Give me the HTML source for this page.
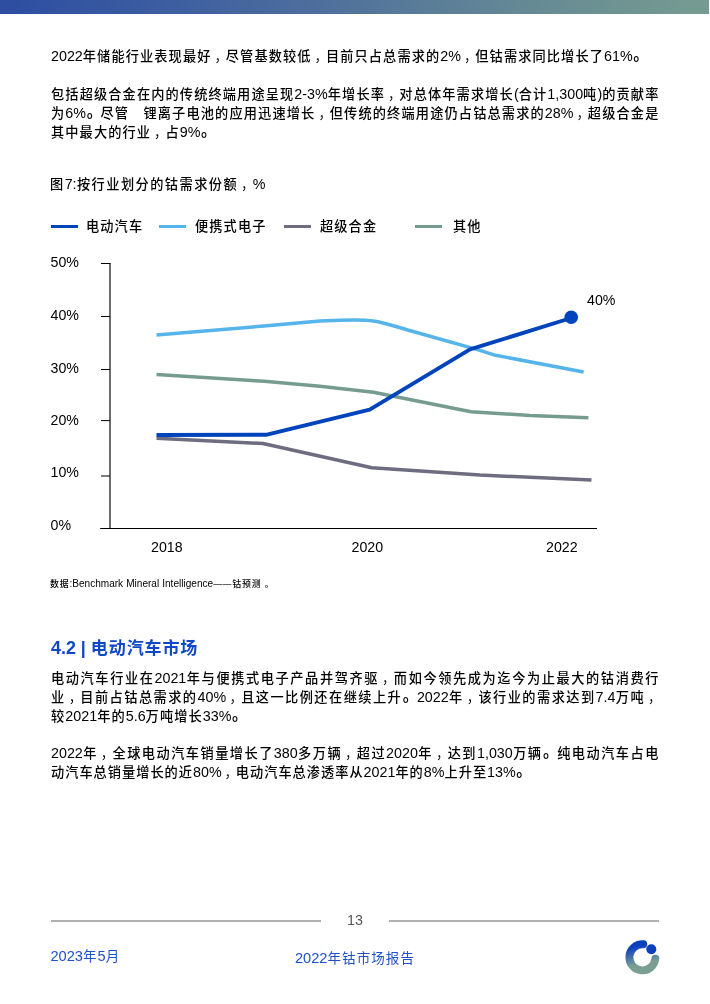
<!DOCTYPE html>
<html lang="zh-CN">
<head>
<meta charset="utf-8">
<title>2022年钴市场报告</title>
<style>
html,body{margin:0;padding:0;background:#fff;}
body{width:710px;height:1004px;position:relative;overflow:hidden;
  font-family:"Liberation Sans","Noto Sans CJK SC",sans-serif;color:#000;font-weight:500;}
.e{font-weight:400;letter-spacing:0;}
.c{position:relative;left:3px;font-weight:400;}
.ln .p{position:relative;left:.6px;top:-.9px;font-size:15.4px;letter-spacing:-1.09px;font-weight:700;}
.topbar{position:absolute;left:0;top:0;width:709px;height:14.4px;
  background:linear-gradient(90deg,#2d4ea1 0%,#3a5ba0 20%,#4e6f9c 45%,#668a94 75%,#769c90 100%);}
.ln{position:absolute;left:51px;white-space:nowrap;font-size:13.2px;letter-spacing:1.11px;line-height:20px;height:20px;}
.ln .e{font-size:14.31px;}
.j{width:608.5px;text-align:justify;text-align-last:justify;white-space:normal;}
.cap{position:absolute;left:50px;width:215.5px;text-align:justify;text-align-last:justify;font-size:13.2px;letter-spacing:1.11px;line-height:20px;}
.cap .e{font-size:14.31px;}
.lg{position:absolute;white-space:nowrap;font-size:13.2px;letter-spacing:1.11px;line-height:18px;top:218px;}
.lgl{position:absolute;height:3px;top:224.5px;}
.src{position:absolute;left:50px;top:577px;width:224.3px;text-align:justify;text-align-last:justify;font-size:8.9px;letter-spacing:.6px;line-height:13px;}
.src .e{font-size:10.07px;}
h2{position:absolute;left:51px;top:636px;margin:0;font-size:17px;letter-spacing:.9px;line-height:24px;font-weight:bold;color:#0f47c6;white-space:nowrap;}
h2 .e{font-size:17.9px;font-weight:bold;}
.ft{position:absolute;white-space:nowrap;font-size:13.5px;letter-spacing:1.1px;line-height:20px;color:#1f50c8;font-weight:400;}
.ft .e{font-size:14.6px;}
.pg{position:absolute;left:347px;top:909.8px;font-size:14.31px;line-height:20px;color:#555;font-weight:400;}
.hr{position:absolute;top:920.2px;height:1.7px;background:#b0b0b0;}
svg{position:absolute;left:0;top:0;}
svg text{font-family:"Liberation Sans","Noto Sans CJK SC",sans-serif;font-size:14.2px;fill:#000;font-weight:400;}
</style>
</head>
<body>
<div class="topbar"></div>

<div class="ln" style="top:46px"><span class="e">2022</span>年储能行业表现最好<span class="c">，</span>尽管基数较低<span class="c">，</span>目前只占总需求的<span class="e">2%</span><span class="c">，</span>但钴需求同比增长了<span class="e">61%</span><span class="p">。</span></div>
<div class="ln j" style="top:84px">包括超级合金在内的传统终端用途呈现<span class="e">2-3%</span>年增长率<span class="c">，</span>对总体年需求增长<span class="e">(</span>合计<span class="e">1,300</span>吨<span class="e">)</span>的贡献率</div>
<div class="ln j" style="top:103px">为<span class="e">6%</span><span class="p">。</span>尽管　锂离子电池的应用迅速增长<span class="c">，</span>但传统的终端用途仍占钴总需求的<span class="e">28%</span><span class="c">，</span>超级合金是</div>
<div class="ln" style="top:122px">其中最大的行业<span class="c">，</span>占<span class="e">9%</span><span class="p">。</span></div>

<div class="cap" style="top:174px">图<span class="e">7:</span>按行业划分的钴需求份额<span class="c">，</span><span class="e">%</span></div>

<div class="lgl" style="left:51px;width:27px;background:#0044bb"></div>
<div class="lg" style="left:86px">电动汽车</div>
<div class="lgl" style="left:159px;width:27px;background:#55b4e9"></div>
<div class="lg" style="left:195px">便携式电子</div>
<div class="lgl" style="left:284px;width:27px;background:#6d6c80"></div>
<div class="lg" style="left:320px">超级合金</div>
<div class="lgl" style="left:415px;width:27px;background:#769c8f"></div>
<div class="lg" style="left:453px">其他</div>

<svg width="710" height="1004" viewBox="0 0 710 1004">
  <!-- axes -->
  <g stroke="#000" stroke-width="1.15" fill="none">
    <path d="M110 263V529"/>
    <path stroke-width="1" d="M100.2 528.5H597"/>
    <path stroke-width="1" d="M101 263.5H110.5M101 316.5H110M101 369.5H110M101 420.6H110M101 476H110"/>
  </g>
  <g>
    <text x="50.5" y="266.8">50%</text>
    <text x="50.5" y="319.8">40%</text>
    <text x="50.5" y="372.8">30%</text>
    <text x="50.5" y="424.8">20%</text>
    <text x="50.5" y="477.3">10%</text>
    <text x="50.5" y="530.3">0%</text>
    <text x="151" y="552">2018</text>
    <text x="351.6" y="552">2020</text>
    <text x="546" y="552">2022</text>
    <text x="587" y="304.8">40%</text>
  </g>
  <g fill="none" stroke-width="3.5" stroke-linejoin="round" stroke-linecap="butt">
    <!-- other (green) -->
    <path stroke="#769c8f" d="M156.5 374.4L264.2 381.3L320 386.3L373.5 392.2L471 411.8L530 415.5L588.4 417.7"/>
    <!-- superalloys (grey) -->
    <path stroke="#6d6c80" d="M156.5 438.3L263 443.5L371.8 467.7L480 475.1L591.5 480.1"/>
    <!-- portable electronics (light blue) -->
    <path stroke="#55b4e9" d="M156.5 335.1L264 326L320 321L340 320.2C355 319.6 365 319.6 373.5 321C385 322.5 400 328 414 331.8L477.5 349.6L495.6 355.3L583.6 372"/>
    <!-- EV (dark blue) -->
    <path stroke="#0044bb" stroke-width="3.9" d="M156.5 435L266 434.8L369.7 409.7L470 349.4L571.2 318"/>
  </g>
  <circle cx="571.2" cy="317.3" r="6.8" fill="#0044bb"/>

  <!-- logo -->
  <defs>
    <linearGradient id="lgd" x1="0.02" y1="0.08" x2="0.19" y2="0.84" gradientUnits="objectBoundingBox">
      <stop offset="0" stop-color="#0a3fc0"/>
      <stop offset="0.06" stop-color="#0a3fc0"/>
      <stop offset="0.97" stop-color="#7a9f92"/>
      <stop offset="1" stop-color="#7a9f92"/>
    </linearGradient>
  </defs>
  <path d="M643.3 944.3A13.05 13.05 0 1 0 655.4 958.7" fill="none" stroke="url(#lgd)" stroke-width="7.9" stroke-linecap="round"/>
  <circle cx="651.3" cy="949.2" r="5" fill="#0a3fc0"/>
</svg>

<div class="src">数据<span class="e">:Benchmark Mineral Intelligence</span>——钴预测 <span class="p">。</span></div>

<h2><span class="e">4.2 | </span>电动汽车市场</h2>

<div class="ln j" style="top:668px">电动汽车行业在<span class="e">2021</span>年与便携式电子产品并驾齐驱<span class="c">，</span>而如今领先成为迄今为止最大的钴消费行</div>
<div class="ln j" style="top:687px">业<span class="c">，</span>目前占钴总需求的<span class="e">40%</span><span class="c">，</span>且这一比例还在继续上升<span class="p">。</span><span class="e">2022</span>年<span class="c">，</span>该行业的需求达到<span class="e">7.4</span>万吨<span class="c">，</span></div>
<div class="ln" style="top:706px">较<span class="e">2021</span>年的<span class="e">5.6</span>万吨增长<span class="e">33%</span><span class="p">。</span></div>
<div class="ln j" style="top:743px"><span class="e">2022</span>年<span class="c">，</span>全球电动汽车销量增长了<span class="e">380</span>多万辆<span class="c">，</span>超过<span class="e">2020</span>年<span class="c">，</span>达到<span class="e">1,030</span>万辆<span class="p">。</span>纯电动汽车占电</div>
<div class="ln" style="top:762px;letter-spacing:1.01px">动汽车总销量增长的近<span class="e">80%</span><span class="c">，</span>电动汽车总渗透率从<span class="e">2021</span>年的<span class="e">8%</span>上升至<span class="e">13%</span><span class="p">。</span></div>

<div class="hr" style="left:51px;width:270px"></div>
<div class="pg">13</div>
<div class="hr" style="left:389px;width:270px"></div>

<div class="ft" style="left:50.5px;top:946px"><span class="e">2023</span>年<span class="e">5</span>月</div>
<div class="ft" style="left:295px;top:948px"><span class="e">2022</span>年钴市场报告</div>
</body>
</html>
